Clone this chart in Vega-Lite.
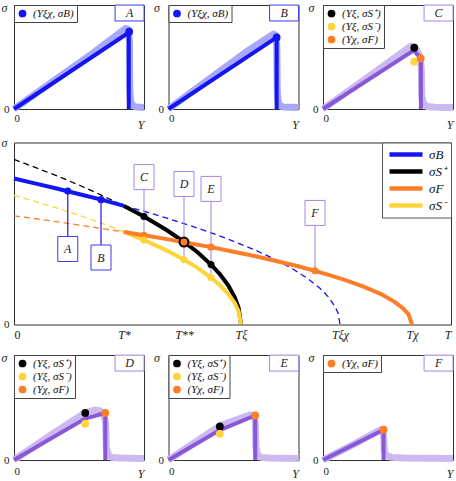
{
  "$schema": "https://vega.github.io/schema/vega-lite/v6.json",
  "padding": 0,
  "config": {
    "font": "Liberation Serif",
    "view": {"stroke": "#303030", "strokeWidth": 1},
    "axis": {"grid": false, "domain": false, "ticks": false, "labelFont": "Liberation Serif", "labelFontSize": 11, "labelColor": "#222", "titleFont": "Liberation Serif", "titleFontStyle": "italic", "titleFontWeight": "normal", "titleFontSize": 12, "titleColor": "#222"},
    "legend": {"orient": "top-left", "offset": 0, "title": null, "padding": 3, "rowPadding": 1, "symbolSize": 60, "symbolType": "circle", "symbolStrokeWidth": 0, "labelFontSize": 11, "labelFont": "Liberation Serif", "labelFontStyle": "italic", "labelColor": "#111", "strokeColor": "#444", "fillColor": "white", "labelOffset": 5, "cornerRadius": 0}
  },
  "spacing": 9,
  "resolve": {"scale": {"color": "independent", "fill": "independent", "stroke": "independent"}, "legend": {"color": "independent"}},
  "vconcat": [
    {
      "spacing": 4.5,
      "resolve": {"scale": {"color": "independent", "fill": "independent", "stroke": "independent"}, "legend": {"color": "independent"}},
      "vconcat": [
    {
      "hconcat": [
        {
          "width": 130, "height": 104,
          "encoding": {
            "x": {"field": "x", "type": "quantitative", "scale": {"domain": [0, 100], "nice": false}, "axis": {"values": [0], "labelExpr": "'0'", "labelPadding": 3, "title": "Y", "titleX": 130, "titleY": 19, "titleAlign": "right", "titleBaseline": "alphabetic"}},
            "y": {"field": "y", "type": "quantitative", "scale": {"domain": [0, 100], "nice": false}, "axis": {"values": [0], "labelPadding": 5, "title": "σ", "titleAngle": 0, "titleX": -10, "titleY": 2, "titleAlign": "center", "titleBaseline": "middle"}}
          },
          "layer": [
            {"data": {"values": [{"i":0,"x":0,"y":0},{"i":1,"x":30,"y":26.5},{"i":2,"x":60,"y":53},{"i":3,"x":86,"y":77.5},{"i":4,"x":88,"y":76.5},{"i":5,"x":88.8,"y":65},{"i":6,"x":89,"y":20},{"i":7,"x":89.6,"y":8},{"i":8,"x":91,"y":3.5},{"i":9,"x":94,"y":2},{"i":10,"x":100,"y":1.5}]},
             "mark": {"type": "line", "strokeWidth": 7, "color": "#a8a8f6", "strokeJoin": "round"}, "encoding": {"order": {"field": "i"}}},
            {"data": {"values": [{"i":0,"x":0,"y":0},{"i":1,"x":88.3,"y":73.5},{"i":2,"x":88.3,"y":0}]},
             "mark": {"type": "line", "strokeWidth": 4, "color": "#1414f5"}, "encoding": {"order": {"field": "i"}}},
            {"data": {"values": [{"k": "(Yξχ, σB)", "x": 88.6, "y": 74.3}]},
             "mark": {"type": "point", "filled": true, "size": 60, "opacity": 1},
             "encoding": {"color": {"field": "k", "type": "nominal", "scale": {"domain": ["(Yξχ, σB)"], "range": ["#1414f5"]}}}},
            {"data": {"values": [{"lab": "A", "x": 88.9, "y": 92.3}]},
             "mark": {"type": "point", "shape": "M-1,-0.55L1,-0.55L1,0.55L-1,0.55Z", "size": 841, "filled": true, "fill": "white", "stroke": "#3a3af0", "strokeWidth": 1, "opacity": 1}},
            {"data": {"values": [{"lab": "A", "x": 88.9, "y": 92.3}]},
             "mark": {"type": "text", "font": "Liberation Serif", "fontStyle": "italic", "fontSize": 12, "color": "#222"}, "encoding": {"text": {"field": "lab"}}}
          ]
        },
        {
          "width": 130, "height": 104,
          "encoding": {
            "x": {"field": "x", "type": "quantitative", "scale": {"domain": [0, 100], "nice": false}, "axis": {"values": [0], "labelExpr": "'0'", "labelPadding": 3, "title": "Y", "titleX": 130, "titleY": 19, "titleAlign": "right", "titleBaseline": "alphabetic"}},
            "y": {"field": "y", "type": "quantitative", "scale": {"domain": [0, 100], "nice": false}, "axis": {"values": [0], "labelPadding": 5, "title": "σ", "titleAngle": 0, "titleX": -12, "titleY": 2, "titleAlign": "center", "titleBaseline": "middle"}}
          },
          "layer": [
            {"data": {"values": [{"i":0,"x":0,"y":0},{"i":1,"x":30,"y":27.5},{"i":2,"x":60,"y":55},{"i":3,"x":80.7,"y":72},{"i":4,"x":82.5,"y":71},{"i":5,"x":83.3,"y":60},{"i":6,"x":83.6,"y":20},{"i":7,"x":84.2,"y":8},{"i":8,"x":85.5,"y":3.5},{"i":9,"x":88,"y":2},{"i":10,"x":100,"y":1.5}]},
             "mark": {"type": "line", "strokeWidth": 7, "color": "#a8a8f6", "strokeJoin": "round"}, "encoding": {"order": {"field": "i"}}},
            {"data": {"values": [{"i":0,"x":0,"y":0},{"i":1,"x":83.2,"y":68.8},{"i":2,"x":83.2,"y":0}]},
             "mark": {"type": "line", "strokeWidth": 4, "color": "#1414f5"}, "encoding": {"order": {"field": "i"}}},
            {"data": {"values": [{"k": "(Yξχ, σB)", "x": 83.2, "y": 68.8}]},
             "mark": {"type": "point", "filled": true, "size": 60, "opacity": 1},
             "encoding": {"color": {"field": "k", "type": "nominal", "scale": {"domain": ["(Yξχ, σB)"], "range": ["#1414f5"]}}}},
            {"data": {"values": [{"lab": "B", "x": 88.9, "y": 92.3}]},
             "mark": {"type": "point", "shape": "M-1,-0.55L1,-0.55L1,0.55L-1,0.55Z", "size": 841, "filled": true, "fill": "white", "stroke": "#3a3af0", "strokeWidth": 1, "opacity": 1}},
            {"data": {"values": [{"lab": "B", "x": 88.9, "y": 92.3}]},
             "mark": {"type": "text", "font": "Liberation Serif", "fontStyle": "italic", "fontSize": 12, "color": "#222"}, "encoding": {"text": {"field": "lab"}}}
          ]
        },
        {
          "width": 130, "height": 104,
          "encoding": {
            "x": {"field": "x", "type": "quantitative", "scale": {"domain": [0, 100], "nice": false}, "axis": {"values": [0], "labelExpr": "'0'", "labelPadding": 3, "title": "Y", "titleX": 130, "titleY": 19, "titleAlign": "right", "titleBaseline": "alphabetic"}},
            "y": {"field": "y", "type": "quantitative", "scale": {"domain": [0, 100], "nice": false}, "axis": {"values": [0], "labelPadding": 5, "title": "σ", "titleAngle": 0, "titleX": -12, "titleY": 2, "titleAlign": "center", "titleBaseline": "middle"}}
          },
          "layer": [
            {"data": {"values": [{"i":0,"x":0,"y":0},{"i":1,"x":35,"y":31},{"i":2,"x":67.7,"y":60.5},{"i":3,"x":70,"y":60},{"i":4,"x":72.5,"y":56},{"i":5,"x":74.5,"y":50},{"i":6,"x":75.6,"y":40},{"i":7,"x":76,"y":12},{"i":8,"x":77.5,"y":5},{"i":9,"x":80,"y":2.5},{"i":10,"x":86,"y":1.8},{"i":11,"x":100,"y":1.5}]},
             "mark": {"type": "line", "strokeWidth": 7, "color": "#cbb9f0", "strokeJoin": "round"}, "encoding": {"order": {"field": "i"}}},
            {"data": {"values": [{"i":0,"x":0,"y":0},{"i":1,"x":69.8,"y":56.4},{"i":2,"x":72,"y":53},{"i":3,"x":75.3,"y":50},{"i":4,"x":75.3,"y":0}]},
             "mark": {"type": "line", "strokeWidth": 4, "color": "#8858d8"}, "encoding": {"order": {"field": "i"}}},
            {"data": {"values": [{"k": "(Yξ, σS⁺)", "x": 70.2, "y": 59}, {"k": "(Yξ, σS⁻)", "x": 70.2, "y": 45.5}, {"k": "(Yχ, σF)", "x": 75.2, "y": 48.7}]},
             "mark": {"type": "point", "filled": true, "size": 60, "opacity": 1},
             "encoding": {"color": {"field": "k", "type": "nominal", "sort": null, "scale": {"domain": ["(Yξ, σS⁺)", "(Yξ, σS⁻)", "(Yχ, σF)"], "range": ["#000000", "#fdd43a", "#fd7e26"]}}}},
            {"data": {"values": [{"lab": "C", "x": 88.9, "y": 92.3}]},
             "mark": {"type": "point", "shape": "M-1,-0.55L1,-0.55L1,0.55L-1,0.55Z", "size": 841, "filled": true, "fill": "white", "stroke": "#a486e6", "strokeWidth": 1, "opacity": 1}},
            {"data": {"values": [{"lab": "C", "x": 88.9, "y": 92.3}]},
             "mark": {"type": "text", "font": "Liberation Serif", "fontStyle": "italic", "fontSize": 12, "color": "#222"}, "encoding": {"text": {"field": "lab"}}}
          ]
        }
      ],
      "spacing": 24.5,
      "bounds": "flush",
      "resolve": {"scale": {"color": "independent"}, "legend": {"color": "independent"}}
    },
    {
      "width": 437, "height": 182,
      "encoding": {
        "x": {"field": "x", "type": "quantitative", "scale": {"domain": [0, 100], "nice": false}, "axis": {"values": [0, 25.17, 38.9, 51.94, 74.6, 91.08, 100], "labelExpr": "datum.value == 0 ? '0' : datum.value < 30 ? 'T*' : datum.value < 40 ? 'T**' : datum.value < 60 ? 'Tξ' : datum.value < 80 ? 'Tξχ' : datum.value < 95 ? 'Tχ' : 'T'", "labelFontStyle": {"condition": {"test": "datum.value == 0", "value": "normal"}, "value": "italic"}, "labelFontSize": 12, "labelPadding": 5, "title": null}},
        "y": {"field": "y", "type": "quantitative", "scale": {"domain": [0, 100], "nice": false}, "axis": {"values": [0], "labelPadding": 5, "title": "σ", "titleAngle": 0, "titleX": -10, "titleY": 0, "titleAlign": "center", "titleBaseline": "middle"}}
      },
      "layer": [
        {"data": {"values": [
          {"c":"σB","x":25.17,"y":65.2},{"c":"σB","x":30,"y":62.0},{"c":"σB","x":35,"y":58.4},{"c":"σB","x":40,"y":54.6},{"c":"σB","x":45,"y":50.5},{"c":"σB","x":50,"y":46.0},{"c":"σB","x":55,"y":41.1},{"c":"σB","x":60,"y":35.5},{"c":"σB","x":64,"y":30.2},{"c":"σB","x":67,"y":25.6},{"c":"σB","x":70,"y":19.9},{"c":"σB","x":72,"y":15.0},{"c":"σB","x":73.5,"y":9.7},{"c":"σB","x":74.2,"y":5.9},{"c":"σB","x":74.6,"y":0},
          {"c":"σS⁺","x":0,"y":90.7},{"c":"σS⁺","x":5,"y":86.2},{"c":"σS⁺","x":10,"y":81.5},{"c":"σS⁺","x":15,"y":76.5},{"c":"σS⁺","x":20,"y":71.1},{"c":"σS⁺","x":25.17,"y":65.1},
          {"c":"σS⁻","x":0,"y":71.0},{"c":"σS⁻","x":5,"y":67.5},{"c":"σS⁻","x":10,"y":63.8},{"c":"σS⁻","x":15,"y":59.9},{"c":"σS⁻","x":20,"y":55.7},{"c":"σS⁻","x":25.17,"y":51.0},
          {"c":"σF","x":0,"y":59.7},{"c":"σF","x":5,"y":58.1},{"c":"σF","x":10,"y":56.4},{"c":"σF","x":15,"y":54.6},{"c":"σF","x":20,"y":52.8},{"c":"σF","x":25.17,"y":50.8}
        ]},
         "mark": {"type": "line", "strokeWidth": 1.3, "strokeDash": [6, 4]},
         "encoding": {"stroke": {"field": "c", "type": "nominal", "scale": {"domain": ["σS⁻", "σF", "σS⁺", "σB"], "range": ["#fdd43a", "#fd7e26", "#000000", "#1414f5"]}, "legend": null}}},
        {"data": {"values": [
          {"c":"σB","x":0,"y":80.2},{"c":"σB","x":5,"y":77.4},{"c":"σB","x":10,"y":74.6},{"c":"σB","x":15,"y":71.6},{"c":"σB","x":20,"y":68.6},{"c":"σB","x":25.17,"y":65.2},
          {"c":"σS⁺","x":25.17,"y":65.1},{"c":"σS⁺","x":29.75,"y":59.3},{"c":"σS⁺","x":35,"y":51.8},{"c":"σS⁺","x":38.9,"y":45.4},{"c":"σS⁺","x":42,"y":39.7},{"c":"σS⁺","x":45.08,"y":32.9},{"c":"σS⁺","x":47,"y":28.0},{"c":"σS⁺","x":49,"y":21.6},{"c":"σS⁺","x":50.5,"y":15.1},{"c":"σS⁺","x":51.4,"y":9.2},{"c":"σS⁺","x":51.94,"y":0},
          {"c":"σS⁻","x":25.17,"y":51.0},{"c":"σS⁻","x":29.75,"y":46.4},{"c":"σS⁻","x":35,"y":40.6},{"c":"σS⁻","x":38.9,"y":35.6},{"c":"σS⁻","x":42,"y":31.1},{"c":"σS⁻","x":45.08,"y":25.8},{"c":"σS⁻","x":47,"y":21.9},{"c":"σS⁻","x":49,"y":16.9},{"c":"σS⁻","x":50.5,"y":11.8},{"c":"σS⁻","x":51.4,"y":7.2},{"c":"σS⁻","x":51.94,"y":0},
          {"c":"σF","x":25.17,"y":50.8},{"c":"σF","x":29.75,"y":49.0},{"c":"σF","x":35,"y":46.9},{"c":"σF","x":38.9,"y":45.2},{"c":"σF","x":45.08,"y":42.5},{"c":"σF","x":50,"y":40.1},{"c":"σF","x":55,"y":37.6},{"c":"σF","x":60,"y":34.9},{"c":"σF","x":65,"y":32.0},{"c":"σF","x":68.88,"y":29.5},{"c":"σF","x":72,"y":27.3},{"c":"σF","x":76,"y":24.3},{"c":"σF","x":80,"y":20.8},{"c":"σF","x":84,"y":16.7},{"c":"σF","x":87,"y":12.6},{"c":"σF","x":89,"y":9.0},{"c":"σF","x":90.3,"y":5.5},{"c":"σF","x":91.08,"y":0}
        ]},
         "mark": {"type": "line", "strokeWidth": 4},
         "encoding": {"color": {"field": "c", "type": "nominal", "sort": null, "scale": {"domain": ["σB", "σS⁺", "σF", "σS⁻"], "range": ["#1414f5", "#000000", "#fd7e26", "#fdd43a"]},
           "legend": {"orient": "top-right", "offset": 0, "symbolType": "stroke", "symbolStrokeWidth": 4.5, "symbolSize": 1089, "clipHeight": 14, "labelFontSize": 13, "labelFontStyle": "italic", "padding": 5, "rowPadding": 3, "strokeColor": "#555", "fillColor": "white", "labelOffset": 4}}}},
        {"data": {"values": [{"x": 25.17}, {"x": 38.9}, {"x": 51.94}, {"x": 74.6}, {"x": 91.08}]},
         "mark": {"type": "rule", "color": "#303030", "strokeWidth": 1},
         "encoding": {"y": {"datum": 100}, "y2": {"datum": 97.8}}},
        {"data": {"values": [{"x": 25.17}, {"x": 38.9}, {"x": 51.94}, {"x": 74.6}, {"x": 91.08}]},
         "mark": {"type": "rule", "color": "#303030", "strokeWidth": 1},
         "encoding": {"y": {"datum": 0}, "y2": {"datum": 2.2}}},
        {"data": {"values": [{"x": 12.3, "y": 41.5, "y2": 73.3}, {"x": 19.91, "y": 36.8, "y2": 68.6}]},
         "mark": {"type": "rule", "color": "#2a2af2", "strokeWidth": 1.3},
         "encoding": {"y2": {"field": "y2"}}},
        {"data": {"values": [{"x": 29.75, "y": 81.0, "y2": 46.4}, {"x": 38.9, "y": 77.2, "y2": 35.6}, {"x": 45.08, "y": 74.5, "y2": 25.8}, {"x": 68.88, "y": 61.3, "y2": 29.5}]},
         "mark": {"type": "rule", "color": "#a98ae6", "strokeWidth": 1.1},
         "encoding": {"y2": {"field": "y2"}}},
        {"data": {"values": [
          {"c":"σB","x":12.3,"y":73.3},{"c":"σB","x":19.91,"y":68.6},
          {"c":"σS⁺","x":29.75,"y":59.3},{"c":"σF","x":29.75,"y":49.0},{"c":"σS⁻","x":29.75,"y":46.4},
          {"c":"σS⁻","x":38.9,"y":35.6},
          {"c":"σS⁺","x":45.08,"y":32.9},{"c":"σF","x":45.08,"y":42.5},{"c":"σS⁻","x":45.08,"y":25.8},
          {"c":"σF","x":68.88,"y":29.5}
        ]},
         "mark": {"type": "point", "filled": true, "size": 50, "opacity": 1, "strokeWidth": 0},
         "encoding": {"fill": {"field": "c", "type": "nominal", "scale": {"domain": ["σS⁺", "σB", "σS⁻", "σF"], "range": ["#000000", "#1414f5", "#fdd43a", "#fd7e26"]}, "legend": null}}},
        {"data": {"values": [{"x": 38.9, "y": 45.3}]},
         "mark": {"type": "point", "filled": true, "fill": "#fd7e26", "stroke": "#000000", "strokeWidth": 2, "size": 80, "opacity": 1}},
        {"data": {"values": [{"lab": "A", "x": 12.3, "y": 41.5}, {"lab": "B", "x": 19.91, "y": 36.8}]},
         "mark": {"type": "point", "shape": "M-0.8,-1L0.8,-1L0.8,1L-0.8,1Z", "size": 625, "filled": true, "fill": "white", "stroke": "#3a3af0", "strokeWidth": 1, "opacity": 1}},
        {"data": {"values": [{"lab": "C", "x": 29.75, "y": 81.0}, {"lab": "D", "x": 38.9, "y": 77.2}, {"lab": "E", "x": 45.08, "y": 74.5}, {"lab": "F", "x": 68.88, "y": 61.3}]},
         "mark": {"type": "point", "shape": "M-0.8,-1L0.8,-1L0.8,1L-0.8,1Z", "size": 625, "filled": true, "fill": "white", "stroke": "#a486e6", "strokeWidth": 1, "opacity": 1}},
        {"data": {"values": [{"lab": "A", "x": 12.3, "y": 41.5}, {"lab": "B", "x": 19.91, "y": 36.8}, {"lab": "C", "x": 29.75, "y": 81.0}, {"lab": "D", "x": 38.9, "y": 77.2}, {"lab": "E", "x": 45.08, "y": 74.5}, {"lab": "F", "x": 68.88, "y": 61.3}]},
         "mark": {"type": "text", "font": "Liberation Serif", "fontStyle": "italic", "fontSize": 12, "color": "#222"},
         "encoding": {"text": {"field": "lab"}}}
      ]
    }
      ]
    },
    {
      "hconcat": [
        {
          "width": 130, "height": 105,
          "encoding": {
            "x": {"field": "x", "type": "quantitative", "scale": {"domain": [0, 100], "nice": false}, "axis": {"values": [0], "labelExpr": "'0'", "labelPadding": 5, "title": "Y", "titleX": 130, "titleY": 17, "titleAlign": "right", "titleBaseline": "alphabetic"}},
            "y": {"field": "y", "type": "quantitative", "scale": {"domain": [0, 100], "nice": false}, "axis": {"values": [0], "labelPadding": 5, "title": "σ", "titleAngle": 0, "titleX": -10, "titleY": 2, "titleAlign": "center", "titleBaseline": "middle"}}
          },
          "layer": [
            {"data": {"values": [{"i":0,"x":0,"y":0},{"i":1,"x":30,"y":25},{"i":2,"x":54.8,"y":45},{"i":3,"x":62,"y":47.5},{"i":4,"x":66,"y":47},{"i":5,"x":69,"y":44},{"i":6,"x":70.5,"y":35},{"i":7,"x":71,"y":12},{"i":8,"x":72.5,"y":5},{"i":9,"x":75,"y":2.5},{"i":10,"x":82,"y":1.8},{"i":11,"x":100,"y":1.5}]},
             "mark": {"type": "line", "strokeWidth": 7, "color": "#cbb9f0", "strokeJoin": "round"}, "encoding": {"order": {"field": "i"}}},
            {"data": {"values": [{"i":0,"x":0,"y":0},{"i":1,"x":54.8,"y":39.5},{"i":2,"x":70.2,"y":44.8},{"i":3,"x":70.2,"y":0}]},
             "mark": {"type": "line", "strokeWidth": 4, "color": "#8858d8"}, "encoding": {"order": {"field": "i"}}},
            {"data": {"values": [{"k": "(Yξ, σS⁺)", "x": 54.8, "y": 44.8}, {"k": "(Yξ, σS⁻)", "x": 54.8, "y": 34.6}, {"k": "(Yχ, σF)", "x": 70.2, "y": 44.8}]},
             "mark": {"type": "point", "filled": true, "size": 60, "opacity": 1},
             "encoding": {"color": {"field": "k", "type": "nominal", "sort": null, "scale": {"domain": ["(Yξ, σS⁺)", "(Yξ, σS⁻)", "(Yχ, σF)"], "range": ["#000000", "#fdd43a", "#fd7e26"]}}}},
            {"data": {"values": [{"lab": "D", "x": 88.9, "y": 92.3}]},
             "mark": {"type": "point", "shape": "M-1,-0.55L1,-0.55L1,0.55L-1,0.55Z", "size": 841, "filled": true, "fill": "white", "stroke": "#a486e6", "strokeWidth": 1, "opacity": 1}},
            {"data": {"values": [{"lab": "D", "x": 88.9, "y": 92.3}]},
             "mark": {"type": "text", "font": "Liberation Serif", "fontStyle": "italic", "fontSize": 12, "color": "#222"}, "encoding": {"text": {"field": "lab"}}}
          ]
        },
        {
          "width": 130, "height": 105,
          "encoding": {
            "x": {"field": "x", "type": "quantitative", "scale": {"domain": [0, 100], "nice": false}, "axis": {"values": [0], "labelExpr": "'0'", "labelPadding": 5, "title": "Y", "titleX": 130, "titleY": 17, "titleAlign": "right", "titleBaseline": "alphabetic"}},
            "y": {"field": "y", "type": "quantitative", "scale": {"domain": [0, 100], "nice": false}, "axis": {"values": [0], "labelPadding": 5, "title": "σ", "titleAngle": 0, "titleX": -12, "titleY": 2, "titleAlign": "center", "titleBaseline": "middle"}}
          },
          "layer": [
            {"data": {"values": [{"i":0,"x":0,"y":0},{"i":1,"x":39.5,"y":32.5},{"i":2,"x":55,"y":39.5},{"i":3,"x":63,"y":43},{"i":4,"x":65.5,"y":42.5},{"i":5,"x":66.8,"y":36},{"i":6,"x":67.2,"y":12},{"i":7,"x":68.5,"y":5},{"i":8,"x":71,"y":2.5},{"i":9,"x":78,"y":1.8},{"i":10,"x":100,"y":1.5}]},
             "mark": {"type": "line", "strokeWidth": 7, "color": "#cbb9f0", "strokeJoin": "round"}, "encoding": {"order": {"field": "i"}}},
            {"data": {"values": [{"i":0,"x":0,"y":0},{"i":1,"x":39.5,"y":28.5},{"i":2,"x":66.7,"y":42.5},{"i":3,"x":66.7,"y":0}]},
             "mark": {"type": "line", "strokeWidth": 4, "color": "#8858d8"}, "encoding": {"order": {"field": "i"}}},
            {"data": {"values": [{"k": "(Yξ, σS⁺)", "x": 39.5, "y": 32}, {"k": "(Yξ, σS⁻)", "x": 39.5, "y": 25}, {"k": "(Yχ, σF)", "x": 66.7, "y": 42.5}]},
             "mark": {"type": "point", "filled": true, "size": 60, "opacity": 1},
             "encoding": {"color": {"field": "k", "type": "nominal", "sort": null, "scale": {"domain": ["(Yξ, σS⁺)", "(Yξ, σS⁻)", "(Yχ, σF)"], "range": ["#000000", "#fdd43a", "#fd7e26"]}}}},
            {"data": {"values": [{"lab": "E", "x": 88.9, "y": 92.3}]},
             "mark": {"type": "point", "shape": "M-1,-0.55L1,-0.55L1,0.55L-1,0.55Z", "size": 841, "filled": true, "fill": "white", "stroke": "#a486e6", "strokeWidth": 1, "opacity": 1}},
            {"data": {"values": [{"lab": "E", "x": 88.9, "y": 92.3}]},
             "mark": {"type": "text", "font": "Liberation Serif", "fontStyle": "italic", "fontSize": 12, "color": "#222"}, "encoding": {"text": {"field": "lab"}}}
          ]
        },
        {
          "width": 130, "height": 105,
          "encoding": {
            "x": {"field": "x", "type": "quantitative", "scale": {"domain": [0, 100], "nice": false}, "axis": {"values": [0], "labelExpr": "'0'", "labelPadding": 5, "title": "Y", "titleX": 130, "titleY": 17, "titleAlign": "right", "titleBaseline": "alphabetic"}},
            "y": {"field": "y", "type": "quantitative", "scale": {"domain": [0, 100], "nice": false}, "axis": {"values": [0], "labelPadding": 5, "title": "σ", "titleAngle": 0, "titleX": -12, "titleY": 2, "titleAlign": "center", "titleBaseline": "middle"}}
          },
          "layer": [
            {"data": {"values": [{"i":0,"x":0,"y":0},{"i":1,"x":25,"y":15.8},{"i":2,"x":44.5,"y":29},{"i":3,"x":46,"y":28.5},{"i":4,"x":46.8,"y":20},{"i":5,"x":47.2,"y":8},{"i":6,"x":49,"y":4},{"i":7,"x":53,"y":2.5},{"i":8,"x":62,"y":1.8},{"i":9,"x":100,"y":1.5}]},
             "mark": {"type": "line", "strokeWidth": 7, "color": "#cbb9f0", "strokeJoin": "round"}, "encoding": {"order": {"field": "i"}}},
            {"data": {"values": [{"i":0,"x":0,"y":0},{"i":1,"x":46.6,"y":28.9},{"i":2,"x":46.6,"y":0}]},
             "mark": {"type": "line", "strokeWidth": 4, "color": "#8858d8"}, "encoding": {"order": {"field": "i"}}},
            {"data": {"values": [{"k": "(Yχ, σF)", "x": 46.6, "y": 28.9}]},
             "mark": {"type": "point", "filled": true, "size": 60, "opacity": 1},
             "encoding": {"color": {"field": "k", "type": "nominal", "scale": {"domain": ["(Yχ, σF)"], "range": ["#fd7e26"]}}}},
            {"data": {"values": [{"lab": "F", "x": 88.9, "y": 92.3}]},
             "mark": {"type": "point", "shape": "M-1,-0.55L1,-0.55L1,0.55L-1,0.55Z", "size": 841, "filled": true, "fill": "white", "stroke": "#a486e6", "strokeWidth": 1, "opacity": 1}},
            {"data": {"values": [{"lab": "F", "x": 88.9, "y": 92.3}]},
             "mark": {"type": "text", "font": "Liberation Serif", "fontStyle": "italic", "fontSize": 12, "color": "#222"}, "encoding": {"text": {"field": "lab"}}}
          ]
        }
      ],
      "spacing": 24.5,
      "bounds": "flush",
      "resolve": {"scale": {"color": "independent"}, "legend": {"color": "independent"}}
    }
  ]
}
